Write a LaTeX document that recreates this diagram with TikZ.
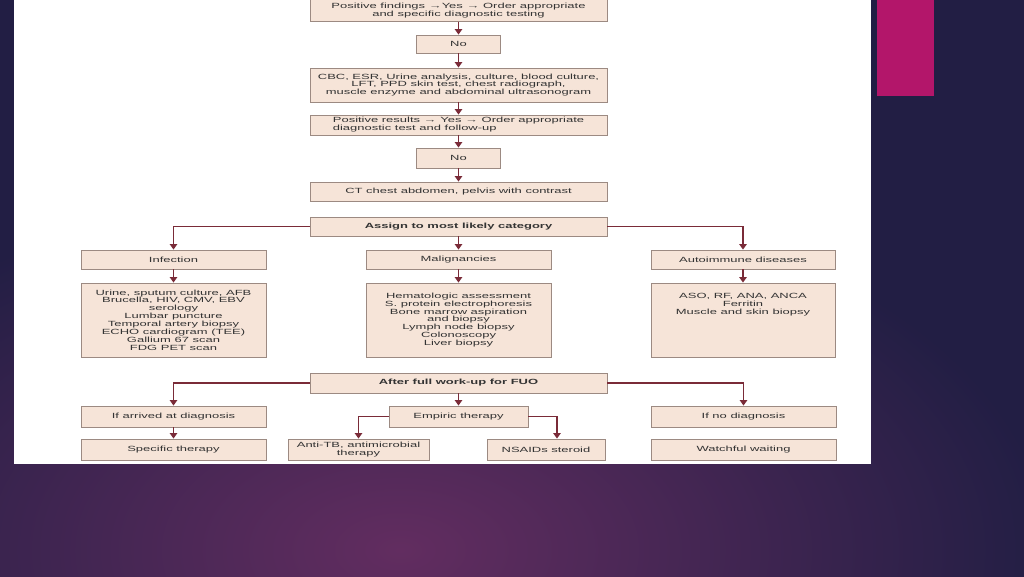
\documentclass[tikz,border=0pt]{standalone}
\usepackage{fontspec}
\setmainfont[FakeStretch=1.73]{Liberation Sans}
\usepackage{xcolor}
\usepackage{tikz}
\usetikzlibrary{arrows.meta}

\definecolor{slidedark}{HTML}{221E44}
\definecolor{slideglow}{HTML}{622D60}
\definecolor{accent}{HTML}{B3166A}
\definecolor{boxfill}{HTML}{F6E4D8}
\definecolor{boxline}{HTML}{9C8A82}
\definecolor{arrowred}{HTML}{7A2B38}
\definecolor{boxtext}{HTML}{333333}

\newcommand{\boxfont}{\fontsize{7.5}{7.9}\selectfont}

\begin{document}
\begin{tikzpicture}[x=1pt, y=-1pt, box/.style = {draw=boxline, fill=boxfill, line width=0.9pt, inner sep=0pt, align=center, text=boxtext, font=\boxfont}, link/.style = {draw=arrowred, line width=1.2pt, -{Triangle[width=7.5pt,length=5.5pt]}}]
	\useasboundingbox (0,0) rectangle (1024,576);
	% slide background
	\fill [slidedark] (0,0) rectangle (1024,576);
	\begin{scope}
		\clip (0,0) rectangle (1024,576);
		\shade [inner color=slideglow, outer color=slidedark] (-250,180) rectangle (1050,920);
	\end{scope}
	\fill [accent] (877,0) rectangle (934,96);
	\fill [white] (14,0) rectangle (871,464);
	% flowchart
		\node [box, minimum width=297, minimum height=22] (find) at (458.5, 10.25) {Positive findings →Yes → Order appropriate\\and specific diagnostic testing};
		\node [box, minimum width=84, minimum height=18] (no1) at (458.5, 44) {No};
		\node [box, minimum width=297, minimum height=34] (cbc) at (458.5, 85) {CBC, ESR, Urine analysis, culture, blood culture,\\LFT, PPD skin test, chest radiograph,\\muscle enzyme and abdominal ultrasonogram};
		\node [box, minimum width=297, minimum height=20, align=left] (res) at (458.5, 125) {Positive results → Yes → Order appropriate\\diagnostic test and follow-up};
		\node [box, minimum width=84, minimum height=20] (no2) at (458.5, 158) {No};
		\node [box, minimum width=297, minimum height=19] (ct) at (458.5, 191.5) {CT chest abdomen, pelvis with contrast};
		\node [box, minimum width=297, minimum height=19, font=\boxfont\bfseries] (assign) at (458.5, 226.5) {Assign to most likely category};
		\node [box, minimum width=185, minimum height=19] (inf) at (173.5, 259.5) {Infection};
		\node [box, minimum width=185, minimum height=74] (infd) at (173.5, 320) {Urine, sputum culture, AFB\\Brucella, HIV, CMV, EBV\\serology\\Lumbar puncture\\Temporal artery biopsy\\ECHO cardiogram (TEE)\\Gallium 67 scan\\FDG PET scan};
		\node [box, minimum width=185, minimum height=19] (mal) at (458.5, 259.5) {Malignancies};
		\node [box, minimum width=185, minimum height=74] (mald) at (458.5, 320) {Hematologic assessment\\S. protein electrophoresis\\Bone marrow aspiration\\and biopsy\\Lymph node biopsy\\Colonoscopy\\Liver biopsy};
		\node [box, minimum width=184, minimum height=19] (aut) at (743, 259.5) {Autoimmune diseases};
		\node [box, minimum width=184, minimum height=74] (autd) at (743, 320) {ASO, RF, ANA, ANCA\\Ferritin\\Muscle and skin biopsy\\~\\~\\~\\~};
		\node [box, minimum width=297, minimum height=20, font=\boxfont\bfseries] (after) at (458.5, 383) {After full work-up for FUO};
		\node [box, minimum width=185, minimum height=21] (arrived) at (173.5, 416.5) {If arrived at diagnosis};
		\node [box, minimum width=185, minimum height=21] (spec) at (173.5, 449.5) {Specific therapy};
		\node [box, minimum width=139, minimum height=21] (emp) at (458.5, 416.5) {Empiric therapy};
		\node [box, minimum width=141, minimum height=21] (antitb) at (358.5, 449.5) {Anti-TB, antimicrobial\\therapy};
		\node [box, minimum width=118, minimum height=21] (nsaid) at (546, 449.5) {NSAIDs steroid};
		\node [box, minimum width=185, minimum height=21] (nodiag) at (743.5, 416.5) {If no diagnosis};
		\node [box, minimum width=185, minimum height=21] (wait) at (743.5, 449.5) {Watchful waiting};
	% connectors
		\draw [link] (find) -- (no1);
		\draw [link] (no1) -- (cbc);
		\draw [link] (cbc) -- (res);
		\draw [link] (res) -- (no2);
		\draw [link] (no2) -- (ct);
		\draw [link] (assign.west) -| (inf);
		\draw [link] (assign) -- (mal);
		\draw [link] (assign.east) -| (aut);
		\draw [link] (inf) -- (infd);
		\draw [link] (mal) -- (mald);
		\draw [link] (aut) -- (autd);
		\draw [link] (after.west) -| (arrived);
		\draw [link] (after) -- (emp);
		\draw [link] (after.east) -| (nodiag);
		\draw [link] (arrived) -- (spec);
		\draw [link] (emp.west) -| (antitb);
		\draw [link] (emp.east) -| ([xshift=11pt]nsaid.north);
\end{tikzpicture}
\end{document}
